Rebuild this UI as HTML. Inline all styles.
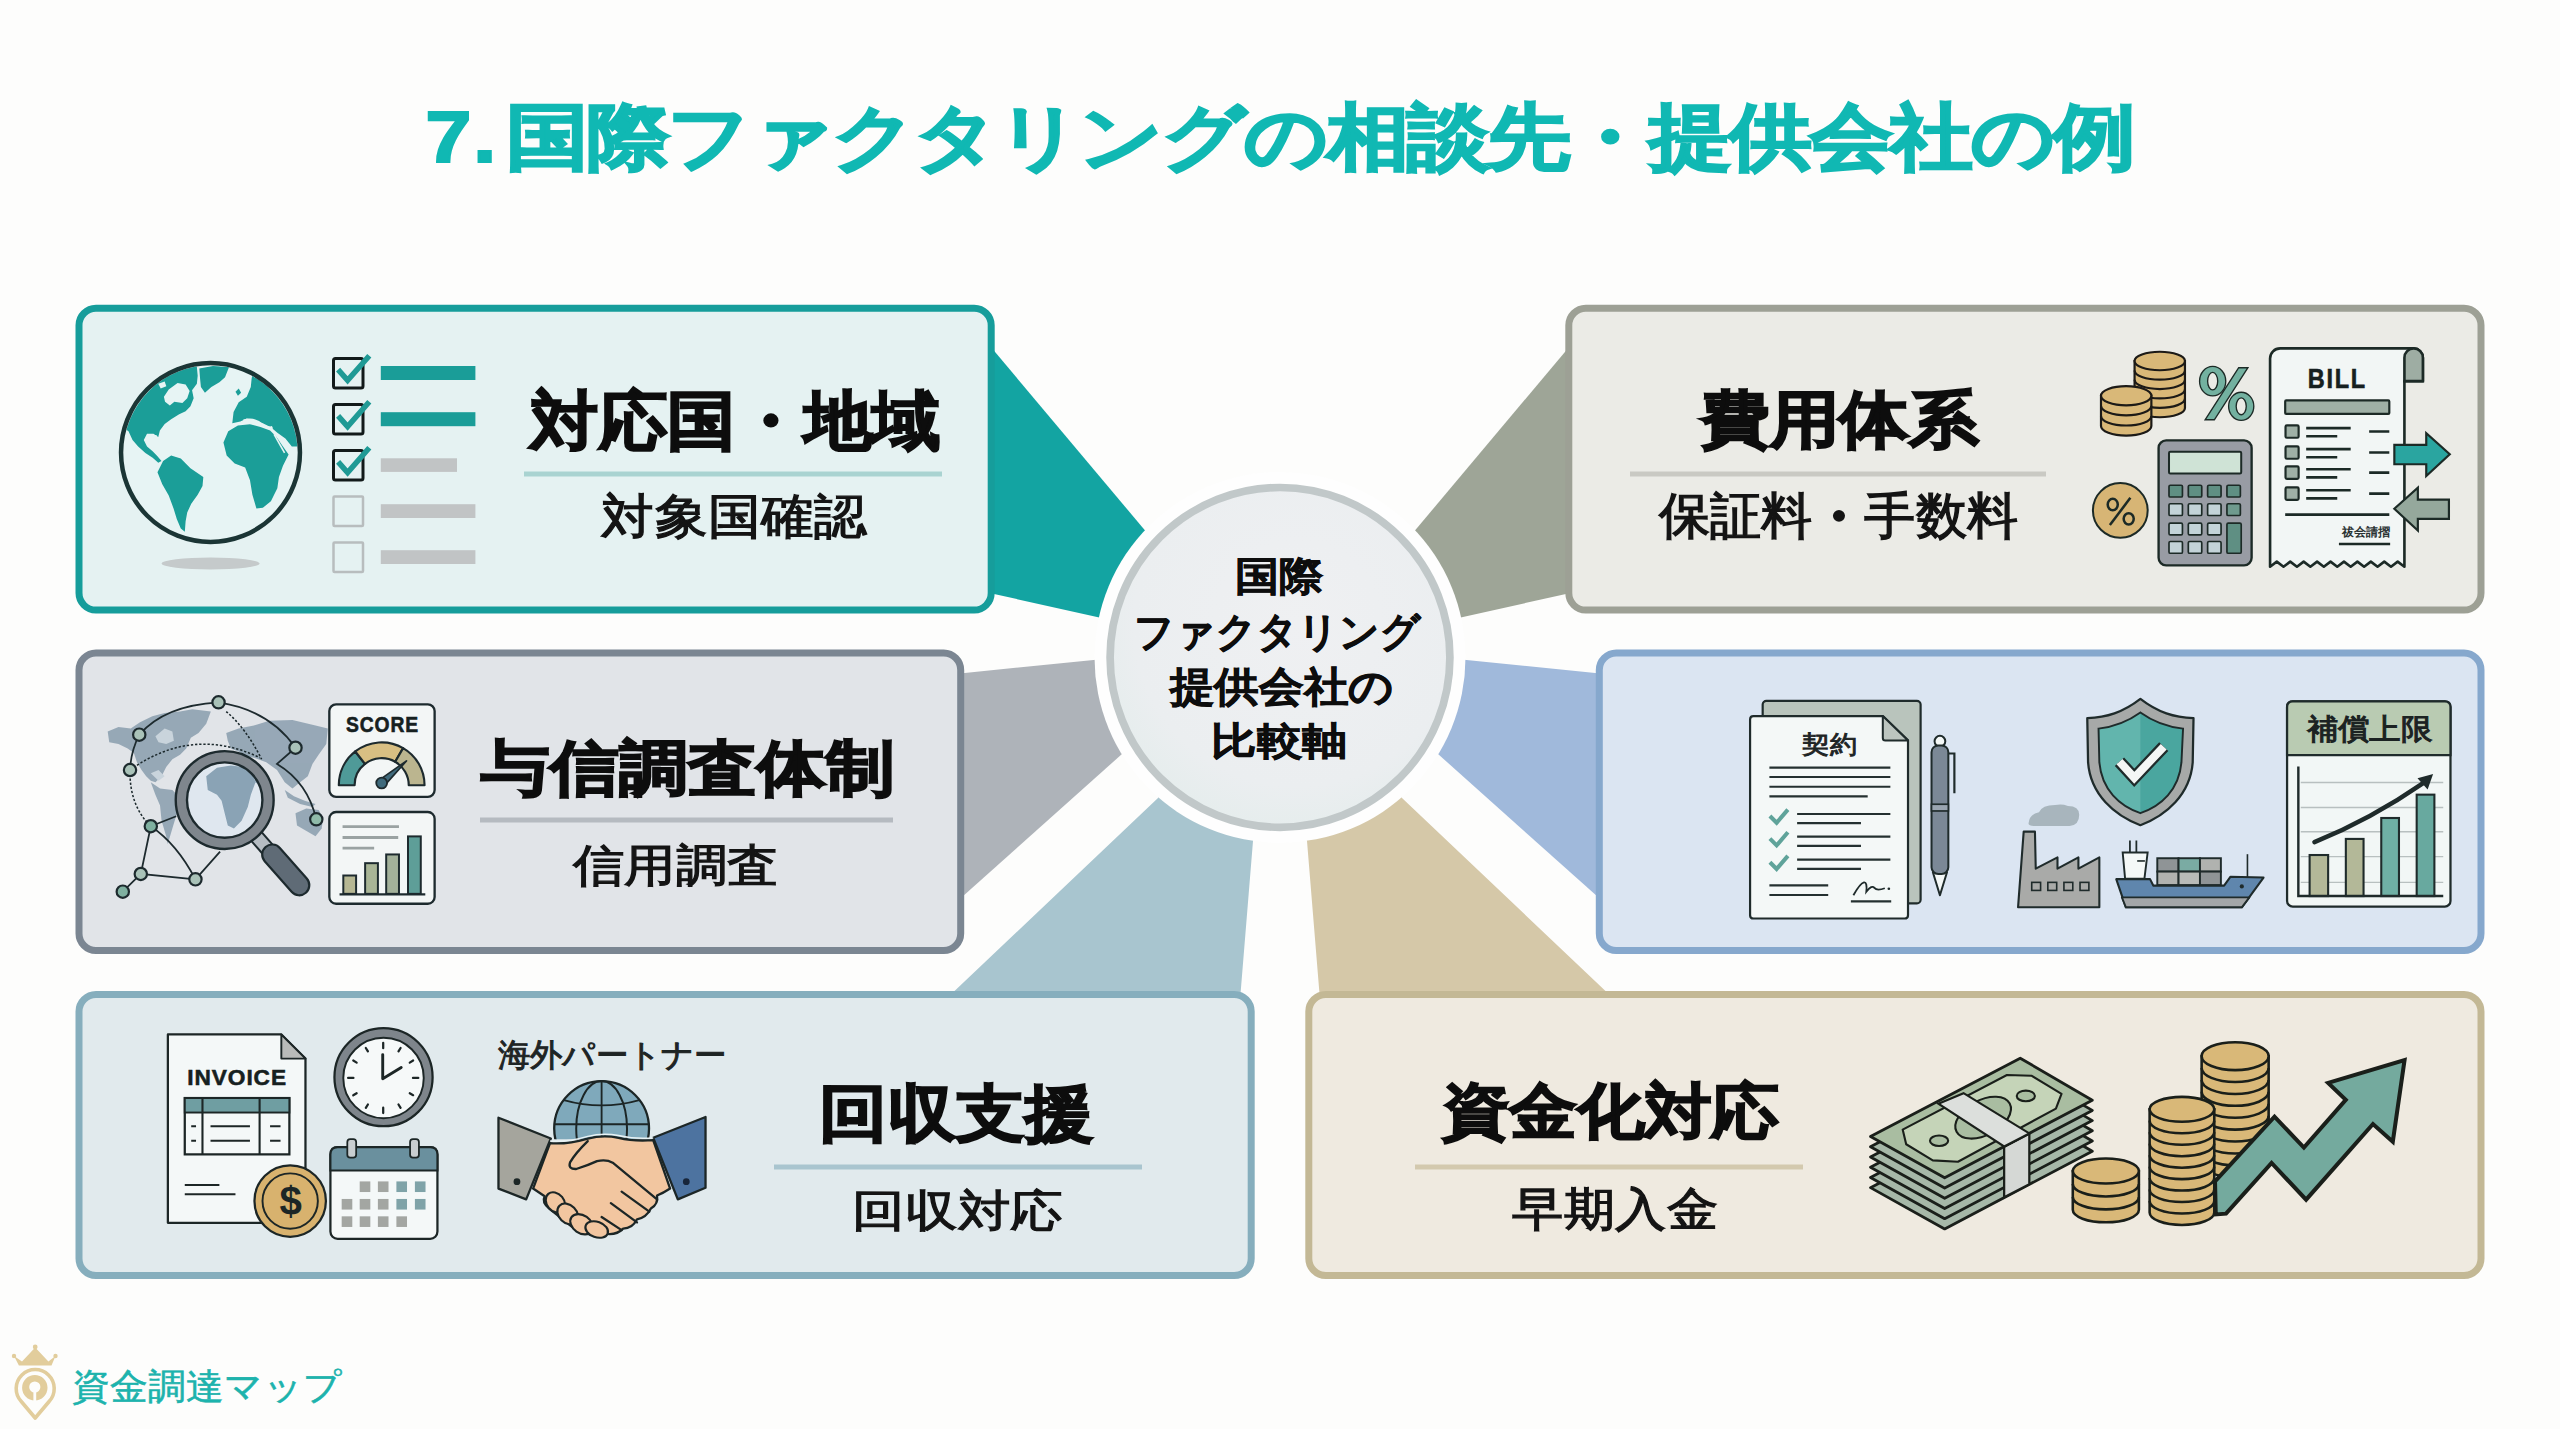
<!DOCTYPE html>
<html lang="ja"><head><meta charset="utf-8"><title>7.国際ファクタリングの相談先・提供会社の例</title>
<style>
html,body{margin:0;padding:0;width:2560px;height:1429px;overflow:hidden;background:#fdfdfc;font-family:"Liberation Sans",sans-serif;}
#bg{position:absolute;left:0;top:0;width:2560px;height:1429px}
.t{position:absolute;white-space:nowrap;text-align:center;color:#111;line-height:1;transform-origin:0 0}
.title{font-weight:700;color:#10b8b3;letter-spacing:-2px;-webkit-text-stroke:2.6px #10b8b3}
.h{font-weight:700;-webkit-text-stroke:2.3px #0d0d0d;color:#0d0d0d}
.s{font-weight:400;-webkit-text-stroke:1.5px #141414;color:#141414}
.c{font-weight:700;-webkit-text-stroke:0.8px #0d0d0d;color:#0d0d0d}
.lbl{font-weight:700;color:#162020;-webkit-text-stroke:0.6px #162020}
.lj{font-weight:400;color:#1e2424;-webkit-text-stroke:1px #1e2424}
.lb{font-weight:400;color:#1b2222;-webkit-text-stroke:1.2px #1b2222}
.lg{font-weight:700;color:#2a3232}
.logo{font-weight:400;color:#1db3ad;-webkit-text-stroke:0.6px #1db3ad}

</style></head>
<body style="">
<svg id="bg" width="2560" height="1429" viewBox="0 0 2560 1429">
<!-- connectors -->
<polygon points="985,340 1190,584 1151,629 985,592" fill="#13a4a2"/>
<polygon points="1575,340 1370,584 1409,629 1575,592" fill="#9ea597"/>
<polygon points="955,674 1096,659.7 1150,660 1150,700 1122,754 955,903.3" fill="#aeb3b9"/>
<polygon points="1605,674 1464,659.7 1410,660 1410,700 1438,754 1605,903.3" fill="#a0b9db"/>
<polygon points="1158,798 1200,740 1270,760 1253,841 1240,1000 945,1000" fill="#a8c5cf"/>
<polygon points="1402,798 1360,740 1290,760 1307,841 1320,1000 1615,1000" fill="#d5c8a8"/>
<!-- center circle -->
<defs><radialGradient id="cg" cx="0.55" cy="0.4" r="0.6"><stop offset="0" stop-color="#eff0f2"/><stop offset="0.8" stop-color="#ebeef0"/><stop offset="1" stop-color="#e6eded"/></radialGradient></defs>
<circle cx="1280" cy="657.4" r="185.5" fill="#fefefe"/>
<circle cx="1280" cy="657.4" r="169.9" fill="url(#cg)" stroke="#c1c8c9" stroke-width="7.7"/>
<!-- panels -->
<rect x="79" y="308.2" width="912.2" height="301.9" rx="17" fill="#e5f2f2" stroke="#169d9b" stroke-width="7"/>
<rect x="1568.8" y="308.2" width="912.2" height="301.9" rx="17" fill="#ebebe6" stroke="#9da095" stroke-width="7"/>
<rect x="79" y="653.1" width="881.7" height="297.4" rx="17" fill="#e1e4e8" stroke="#7b8692" stroke-width="7"/>
<rect x="1599.3" y="653.1" width="881.7" height="297.4" rx="17" fill="#dbe5f2" stroke="#86a8cd" stroke-width="7"/>
<rect x="79" y="994.5" width="1172.2" height="281" rx="17" fill="#e1eaed" stroke="#86aebd" stroke-width="7"/>
<rect x="1308.8" y="994.5" width="1172.2" height="281" rx="17" fill="#efeae0" stroke="#c3b895" stroke-width="7"/>
<!-- dividers -->
<rect x="524" y="471.5" width="418" height="5" fill="#a9d3d1"/>
<rect x="1630" y="471.5" width="416" height="5" fill="#c9c9c3"/>
<rect x="480" y="817.5" width="413" height="5" fill="#b5bac0"/>
<rect x="774" y="1164.5" width="368" height="5" fill="#a9c5cf"/>
<rect x="1415" y="1164.5" width="388" height="5" fill="#d3c9ae"/>
<!-- P1 globe -->
<defs><clipPath id="gclip"><circle cx="624.6" cy="637" r="541"/></clipPath></defs>
<ellipse cx="210.6" cy="563.5" rx="49" ry="6" fill="#c5cacb"/>
<g transform="translate(110,350) scale(0.1609)">
<circle cx="624.6" cy="637" r="545" fill="#e7f4f4"/>
<g clip-path="url(#gclip)" fill="#1b9e98">
<path d="M0,470 L0,0 L530,0 L545,160 L540,210 L510,250 L520,300 L500,350 L470,380 L430,400 L380,430 L340,460 L310,500 L300,540 L270,520 L230,520 L210,560 L230,600 L265,630 L295,660 L320,690 L300,700 L265,670 L220,640 L175,600 L140,560 L115,505 L60,470 Z"/>
<path d="M555,115 L640,100 L740,105 L715,170 L680,200 L630,230 L590,265 L565,230 L560,180 Z"/>
<path d="M295,760 L330,690 L380,655 L440,675 L500,735 L580,790 L575,845 L545,900 L505,955 L480,1010 L470,1065 L465,1130 L440,1110 L415,1050 L395,985 L365,905 L325,835 Z"/>
<path d="M705,575 L735,505 L795,470 L870,462 L935,478 L995,500 L1035,540 L1075,600 L1110,650 L1075,720 L1050,790 L1040,860 L1000,940 L950,980 L910,985 L885,900 L870,810 L840,730 L775,705 L725,655 Z"/>
<path d="M760,455 L768,385 L800,325 L850,290 L875,230 L880,180 L900,60 L1300,60 L1300,600 L1130,600 L1090,550 L1040,515 L1000,480 L950,455 L900,435 L850,425 L810,445 Z"/>
<path d="M780,260 L800,240 L815,265 L795,285 Z"/>
</g>
<g fill="#e7f4f4">
<path d="M335,290 L365,245 L420,205 L470,215 L495,255 L480,300 L450,330 L400,322 L372,345 L342,322 Z"/>
<path d="M300,210 L340,195 L350,225 L315,240 Z"/>
<path d="M215,560 L250,525 L290,530 L300,575 L270,600 L240,600 Z"/>
</g>
<path d="M1020,525 L1085,640" stroke="#e7f4f4" stroke-width="10" fill="none"/>
<path d="M830,440 Q900,420 950,470 Q990,490 1010,480" stroke="#e7f4f4" stroke-width="16" fill="none"/>
<circle cx="624.6" cy="637" r="556" fill="none" stroke="#1b3535" stroke-width="28"/>
</g>
<!-- checklist -->
<g fill="none">
<rect x="333.5" y="358.5" width="29.5" height="29.5" rx="2" stroke="#121a1a" stroke-width="3"/>
<rect x="333.5" y="404.5" width="29.5" height="29.5" rx="2" stroke="#121a1a" stroke-width="3"/>
<rect x="333.5" y="450.5" width="29.5" height="29.5" rx="2" stroke="#121a1a" stroke-width="3"/>
<rect x="333.5" y="496.5" width="29.5" height="29.5" rx="1" stroke="#b8bdbe" stroke-width="2.5"/>
<rect x="333.5" y="542.5" width="29.5" height="29.5" rx="1" stroke="#b8bdbe" stroke-width="2.5"/>
<path d="M338.1,369.7 L347.6,380.4 L369.3,355.7 M338.1,415.8 L347.6,426.5 L369.3,401.8 M338.1,461.8 L347.6,472.5 L369.3,447.8" stroke="#1f9a95" stroke-width="5.5" stroke-linejoin="miter"/>
</g>
<rect x="380.8" y="366" width="94.6" height="14" fill="#1a9d98"/>
<rect x="380.8" y="412.2" width="94.6" height="14" fill="#1a9d98"/>
<rect x="380.8" y="458.3" width="76.2" height="13.6" fill="#c1c4c5"/>
<rect x="380.8" y="504.2" width="94.6" height="13.8" fill="#c1c4c5"/>
<rect x="380.8" y="550.2" width="94.6" height="13.8" fill="#c1c4c5"/>
<!-- P2 coins/calc -->
<g transform="translate(2080,340) scale(0.16793)">
<path d="M325,125 L325,405 A150,55 0 0 0 625,405 L625,125 Z" fill="#d9b878" stroke="#1c1a17" stroke-width="13"/><path d="M325,181 A150,55 0 0 0 625,181" fill="none" stroke="#1c1a17" stroke-width="13"/><path d="M325,237 A150,55 0 0 0 625,237" fill="none" stroke="#1c1a17" stroke-width="13"/><path d="M325,293 A150,55 0 0 0 625,293" fill="none" stroke="#1c1a17" stroke-width="13"/><path d="M325,349 A150,55 0 0 0 625,349" fill="none" stroke="#1c1a17" stroke-width="13"/><ellipse cx="475" cy="125" rx="150" ry="55" fill="#d9b878" stroke="#1c1a17" stroke-width="13"/>
<path d="M125,332 L125,512 A150,57 0 0 0 425,512 L425,332 Z" fill="#d9b878" stroke="#1c1a17" stroke-width="13"/><path d="M125,392 A150,57 0 0 0 425,392" fill="none" stroke="#1c1a17" stroke-width="13"/><path d="M125,452 A150,57 0 0 0 425,452" fill="none" stroke="#1c1a17" stroke-width="13"/><ellipse cx="275" cy="332" rx="150" ry="57" fill="#d9b878" stroke="#1c1a17" stroke-width="13"/>
<path fill-rule="evenodd" d="M712,245 a78,88 0 1,0 156,0 a78,88 0 1,0 -156,0 Z M760,245 a30,52 0 1,0 60,0 a30,52 0 1,0 -60,0 Z" fill="#73b1a0" stroke="#1c2a26" stroke-width="8"/>
<path fill-rule="evenodd" d="M885,395 a75,84 0 1,0 150,0 a75,84 0 1,0 -150,0 Z M930,395 a30,50 0 1,0 60,0 a30,50 0 1,0 -60,0 Z" fill="#73b1a0" stroke="#1c2a26" stroke-width="8"/>
<polygon points="745,475 800,475 1000,165 945,165" fill="#73b1a0" stroke="#1c2a26" stroke-width="8"/>
<rect x="468" y="598" width="554" height="744" rx="45" fill="#989ca4" stroke="#1c2a26" stroke-width="14"/>
<rect x="530" y="665" width="430" height="130" rx="8" fill="#cfe3d6" stroke="#1c2a26" stroke-width="12"/>
<rect x="530" y="865" width="80" height="70" rx="8" fill="#5f8f83" stroke="#1c2a26" stroke-width="10"/>
<rect x="645" y="865" width="80" height="70" rx="8" fill="#5f8f83" stroke="#1c2a26" stroke-width="10"/>
<rect x="760" y="865" width="80" height="70" rx="8" fill="#5f8f83" stroke="#1c2a26" stroke-width="10"/>
<rect x="875" y="865" width="80" height="70" rx="8" fill="#5f8f83" stroke="#1c2a26" stroke-width="10"/>
<rect x="530" y="975" width="80" height="70" rx="8" fill="#c3d3d8" stroke="#1c2a26" stroke-width="10"/>
<rect x="645" y="975" width="80" height="70" rx="8" fill="#c3d3d8" stroke="#1c2a26" stroke-width="10"/>
<rect x="760" y="975" width="80" height="70" rx="8" fill="#c3d3d8" stroke="#1c2a26" stroke-width="10"/>
<rect x="875" y="975" width="80" height="70" rx="8" fill="#6f9a8e" stroke="#1c2a26" stroke-width="10"/>
<rect x="530" y="1090" width="80" height="70" rx="8" fill="#c3d3d8" stroke="#1c2a26" stroke-width="10"/>
<rect x="645" y="1090" width="80" height="70" rx="8" fill="#c3d3d8" stroke="#1c2a26" stroke-width="10"/>
<rect x="760" y="1090" width="80" height="70" rx="8" fill="#c3d3d8" stroke="#1c2a26" stroke-width="10"/>
<rect x="875" y="1090" width="85" height="180" rx="8" fill="#5f8f83" stroke="#1c2a26" stroke-width="10"/>
<rect x="530" y="1200" width="80" height="70" rx="8" fill="#c3d3d8" stroke="#1c2a26" stroke-width="10"/>
<rect x="645" y="1200" width="80" height="70" rx="8" fill="#c3d3d8" stroke="#1c2a26" stroke-width="10"/>
<rect x="760" y="1200" width="80" height="70" rx="8" fill="#c3d3d8" stroke="#1c2a26" stroke-width="10"/>
<circle cx="240" cy="1015" r="163" fill="#d7b575" stroke="#1c2a26" stroke-width="12"/>
<ellipse cx="195" cy="980" rx="30" ry="34" fill="none" stroke="#1c2a26" stroke-width="15"/>
<ellipse cx="290" cy="1065" rx="30" ry="34" fill="none" stroke="#1c2a26" stroke-width="15"/>
<path d="M178,1102 L300,940" stroke="#1c2a26" stroke-width="15"/>
</g>
<!-- P2 receipt -->
<g transform="translate(2260,340) scale(0.16793)">
<path d="M860,245 L860,1350 L820,1320 L780,1350 L740,1320 L700,1350 L660,1320 L620,1350 L580,1320 L540,1350 L500,1320 L460,1350 L420,1320 L380,1350 L340,1320 L300,1350 L260,1320 L220,1350 L180,1320 L140,1350 L100,1320 L60,1350 L60,1345 L60,110 A60,60 0 0 1 120,50 L915,50 A55,55 0 0 1 970,105 L970,245 Z" fill="#f2f6f5" stroke="#1c2a26" stroke-width="15.6" stroke-linejoin="round"/>
<path d="M860,245 L860,105 A55,55 0 0 1 970,105 L970,245 Z" fill="#9eada3" stroke="#1c2a26" stroke-width="15.6"/>
<rect x="150" y="360" width="620" height="80" rx="6" fill="#9fb0a6" stroke="#1c2a26" stroke-width="13.0"/>
<rect x="152" y="508" width="78" height="74" rx="8" fill="#9fb0a6" stroke="#1c2a26" stroke-width="13.0"/>
<path d="M275,525 L540,525 M275,573 L460,573 M650,545 L770,545" stroke="#1c2a26" stroke-width="15.6"/>
<rect x="152" y="633" width="78" height="74" rx="8" fill="#9fb0a6" stroke="#1c2a26" stroke-width="13.0"/>
<path d="M275,650 L540,650 M275,698 L460,698 M650,670 L770,670" stroke="#1c2a26" stroke-width="15.6"/>
<rect x="152" y="753" width="78" height="74" rx="8" fill="#9fb0a6" stroke="#1c2a26" stroke-width="13.0"/>
<path d="M275,770 L540,770 M275,818 L460,818 M650,790 L770,790" stroke="#1c2a26" stroke-width="15.6"/>
<rect x="152" y="878" width="78" height="74" rx="8" fill="#9fb0a6" stroke="#1c2a26" stroke-width="13.0"/>
<path d="M275,895 L540,895 M275,943 L460,943 M650,915 L770,915" stroke="#1c2a26" stroke-width="15.6"/>
<path d="M150,1040 L770,1040 M470,1215 L775,1215" stroke="#1c2a26" stroke-width="15.6"/>
<polygon points="800,625 990,625 990,555 1130,680 990,810 990,740 800,740" fill="#2aa5a0" stroke="#1c2a26" stroke-width="13.0"/>
<polygon points="1125,950 940,950 940,880 800,1005 940,1135 940,1065 1125,1065" fill="#95a89c" stroke="#1c2a26" stroke-width="13.0"/>
</g>
<!-- P3 map/network -->
<g transform="translate(100,690) scale(0.15394)">
<g fill="#8a9eae" opacity="0.85">
<path d="M50,270 L120,240 L200,250 L260,210 L340,170 L420,150 L520,140 L600,125 L720,140 L690,220 L640,280 L590,310 L560,380 L520,420 L470,450 L430,500 L400,560 L360,600 L330,590 L300,560 L270,520 L240,470 L220,410 L180,380 L120,350 L60,340 Z"/>
<path d="M330,600 L390,640 L470,650 L520,700 L500,800 L470,900 L440,1000 L430,950 L400,850 L390,750 L360,680 Z"/>
<path d="M820,280 L900,250 L1000,230 L1100,200 L1250,195 L1400,230 L1480,250 L1470,350 L1420,420 L1380,480 L1350,560 L1300,600 L1250,640 L1200,600 L1150,520 L1080,470 L1000,440 L950,430 L900,400 L850,380 L830,330 Z"/>
<path d="M1200,650 L1260,690 L1330,720 L1400,740 L1380,760 L1300,740 L1220,700 Z"/>
<path d="M1270,800 L1340,770 L1420,780 L1450,830 L1440,900 L1400,950 L1330,910 L1280,880 Z"/>
</g>
<g fill="#c9d4dc"><path d="M360,300 L420,250 L470,270 L480,330 L430,350 L380,340 Z"/><path d="M330,540 L380,520 L420,560 L380,590 Z"/></g>
<g fill="none" stroke="#1d2a2e" stroke-width="11.5">
<path d="M255,290 Q420,100 770,80"/>
<path d="M770,80 Q1100,130 1270,375"/>
<path d="M255,290 Q200,400 195,520"/>
<path d="M1270,375 L1150,480 Q1350,600 1405,840"/>
<path d="M330,885 L265,1195 L620,1230 M265,1195 L148,1310 M330,885 Q500,1000 620,1230 M330,885 L495,820 M620,1230 L780,1050"/>
</g>
<g fill="none" stroke="#1d2a2e" stroke-width="10" stroke-dasharray="15,12">
<path d="M195,520 Q190,750 330,885"/>
<path d="M195,520 Q600,230 1040,440"/>
<path d="M820,140 Q950,250 1050,450"/>
</g>
<path d="M1007,941 L1119,1069" stroke="#1d2a2e" stroke-width="101.2"/>
<path d="M1007,941 L1119,1069" stroke="#b5bcc2" stroke-width="74.8"/>
<path d="M1119,1069 L1294,1268" stroke="#1d2a2e" stroke-width="145.2" stroke-linecap="round"/>
<path d="M1119,1069 L1294,1268" stroke="#5f6b76" stroke-width="116.6" stroke-linecap="round"/>
<circle cx="810" cy="715" r="318" fill="#7f868d" stroke="#1d2a2e" stroke-width="15.4"/>
<defs><clipPath id="lens"><circle cx="810" cy="715" r="245"/></clipPath></defs>
<circle cx="810" cy="715" r="245" fill="#dfe7ef"/>
<g clip-path="url(#lens)" fill="#8aa3b5"><path d="M690,560 L760,505 L850,490 L930,500 L990,540 L1010,600 L980,680 L960,760 L920,850 L870,900 L830,880 L810,800 L790,720 L760,680 L700,650 Z"/><path d="M700,480 L760,460 L850,470 L900,455 L1000,470 L1060,430 L1060,380 L700,380 Z"/><path d="M990,540 L1060,520 L1060,640 L1010,600 Z"/></g>
<circle cx="810" cy="715" r="245" fill="none" stroke="#1d2a2e" stroke-width="15.4"/>
<circle cx="770" cy="80" r="40" fill="#a9c2b8" stroke="#1d2a2e" stroke-width="14.3"/>
<circle cx="255" cy="290" r="40" fill="#a9c2b8" stroke="#1d2a2e" stroke-width="14.3"/>
<circle cx="195" cy="520" r="40" fill="#a9c2b8" stroke="#1d2a2e" stroke-width="14.3"/>
<circle cx="1270" cy="375" r="40" fill="#a9c2b8" stroke="#1d2a2e" stroke-width="14.3"/>
<circle cx="1405" cy="840" r="40" fill="#8fbaa9" stroke="#1d2a2e" stroke-width="14.3"/>
<circle cx="330" cy="885" r="40" fill="#7fb0a0" stroke="#1d2a2e" stroke-width="14.3"/>
<circle cx="265" cy="1195" r="40" fill="#a9c2b8" stroke="#1d2a2e" stroke-width="14.3"/>
<circle cx="620" cy="1230" r="40" fill="#a9c2b8" stroke="#1d2a2e" stroke-width="14.3"/>
<circle cx="148" cy="1310" r="40" fill="#7fb0a0" stroke="#1d2a2e" stroke-width="14.3"/>
</g>
<!-- P3 score/chart -->
<g transform="translate(320,695) scale(0.15042)">
<rect x="62" y="62" width="700" height="615" rx="45" fill="#f3f6f6" stroke="#1d2a2e" stroke-width="15.4"/>
<path d="M125.0,600.0 A285,285 0 0 1 234.5,375.4 L299.2,458.2 A180,180 0 0 0 230.0,600.0 Z" fill="#4f9a98" stroke="#1d2a2e" stroke-width="14.3" stroke-linejoin="round"/>
<path d="M234.5,375.4 A285,285 0 0 1 552.5,353.2 L500.0,444.1 A180,180 0 0 0 299.2,458.2 Z" fill="#d8bf83" stroke="#1d2a2e" stroke-width="14.3" stroke-linejoin="round"/>
<path d="M552.5,353.2 A285,285 0 0 1 695.0,600.0 L590.0,600.0 A180,180 0 0 0 500.0,444.1 Z" fill="#bbb58f" stroke="#1d2a2e" stroke-width="14.3" stroke-linejoin="round"/>
<path d="M427,604 L575,438 L393,566 Z" fill="#3f6a7c" stroke="#1d2a2e" stroke-width="11.0" stroke-linejoin="round"/>
<circle cx="410" cy="585" r="36" fill="#3f6a7c" stroke="#1d2a2e" stroke-width="12.1"/>
<rect x="62" y="778" width="700" height="610" rx="45" fill="#f3f6f6" stroke="#1d2a2e" stroke-width="15.4"/>
<path d="M150,875 L525,875 M150,948 L520,948 M150,1018 L360,1018" stroke="#9aa2a2" stroke-width="19.8"/>
<rect x="155" y="1200" width="85" height="122" fill="#b6b793" stroke="#1d2a2e" stroke-width="13.2"/>
<rect x="300" y="1118" width="85" height="204" fill="#a9b596" stroke="#1d2a2e" stroke-width="13.2"/>
<rect x="440" y="1060" width="85" height="262" fill="#a3b19a" stroke="#1d2a2e" stroke-width="13.2"/>
<rect x="585" y="940" width="85" height="382" fill="#5e9e98" stroke="#1d2a2e" stroke-width="13.2"/>
<path d="M130,1325 L700,1325" stroke="#1d2a2e" stroke-width="15.4"/>
</g>
<!-- P4 contract -->
<g transform="translate(1740,690) scale(0.16801)">
<rect x="135" y="65" width="940" height="1205" rx="22" fill="#b9c4bc" stroke="#1f2b2b" stroke-width="13"/>
<path d="M80,155 L850,155 L1000,300 L1000,1340 Q1000,1360 980,1360 L80,1360 Q60,1360 60,1340 L60,175 Q60,155 80,155 Z" fill="#f4f8f7" stroke="#1f2b2b" stroke-width="13" stroke-linejoin="round"/>
<path d="M850,155 L850,285 Q850,300 865,300 L1000,300 Z" fill="#bcc5bf" stroke="#1f2b2b" stroke-width="12" stroke-linejoin="round"/>
<path d="M175,462 L895,462 M175,518 L895,518 M175,576 L895,576 M175,633 L760,633 M340,738 L895,738 M340,792 L720,792 M340,873 L895,873 M340,928 L720,928 M340,1010 L895,1010 M340,1065 L720,1065 M175,1163 L525,1163 M175,1220 L525,1220 M660,1258 L900,1258" stroke="#243030" stroke-width="13"/>
<path d="M178,750 L218,790 L285,712 M178,885 L218,925 L285,847 M178,1025 L218,1065 L285,987" stroke="#5fa39a" stroke-width="24" fill="none"/>
<path d="M675,1222 Q715,1150 738,1145 Q758,1142 752,1200 Q785,1158 800,1178 Q815,1198 862,1180" stroke="#1f2b2b" stroke-width="11" fill="none"/><circle cx="886" cy="1183" r="8" fill="#1f2b2b"/>
<circle cx="1190" cy="305" r="32" fill="#f4f8f7" stroke="#1f2b2b" stroke-width="12"/>
<path d="M1238,378 L1276,378 L1276,614" stroke="#1f2b2b" stroke-width="13" fill="none"/>
<polygon points="1148,1085 1232,1085 1190,1222" fill="#f4f8f7" stroke="#1f2b2b" stroke-width="12" stroke-linejoin="round"/>
<rect x="1140" y="330" width="100" height="765" rx="40" fill="#7b8896" stroke="#1f2b2b" stroke-width="12"/>
<rect x="1140" y="680" width="100" height="40" fill="#9aa5b0" stroke="#1f2b2b" stroke-width="10"/>
</g>
<!-- P4 shield factory ship -->
<g transform="translate(2010,690) scale(0.16098)">
<path d="M810,55 C700,140 600,170 480,175 L485,450 C500,650 650,780 810,840 C970,780 1120,650 1135,450 L1140,175 C1020,170 920,140 810,55 Z" fill="#a7a9a8" stroke="#1f2b2b" stroke-width="14" stroke-linejoin="round"/>
<path d="M810,140 C720,205 640,230 550,240 L555,450 C570,620 680,720 810,765 C940,720 1050,620 1065,450 L1075,240 C980,230 900,205 810,140 Z" fill="#62b5ad"/>
<path d="M810,140 C900,205 980,230 1075,240 L1065,450 C1050,620 940,720 810,765 Z" fill="#4aa69f"/>
<path d="M810,140 C720,205 640,230 550,240 L555,450 C570,620 680,720 810,765 C940,720 1050,620 1065,450 L1075,240 C980,230 900,205 810,140 Z" fill="none" stroke="#1f2b2b" stroke-width="12"/>
<path d="M680,445 L772,545 L955,352" stroke="#1f2b2b" stroke-width="78" fill="none" stroke-linejoin="miter"/>
<path d="M680,445 L772,545 L955,352" stroke="#f4f6f5" stroke-width="50" fill="none" stroke-linejoin="miter"/>
<path d="M115,830 Q120,770 180,760 Q200,715 280,715 Q320,705 360,720 Q430,720 430,775 Q430,840 370,845 L150,845 Q115,845 115,830 Z" fill="#a8b5bd"/>
<polygon points="50,1350 85,880 155,880 160,1110 295,1040 295,1110 425,1040 425,1110 555,1040 555,1350" fill="#a9aaa8" stroke="#1f2b2b" stroke-width="13" stroke-linejoin="round"/>
<rect x="135" y="1195" width="55" height="50" fill="none" stroke="#1f2b2b" stroke-width="10"/>
<rect x="235" y="1195" width="55" height="50" fill="none" stroke="#1f2b2b" stroke-width="10"/>
<rect x="335" y="1195" width="55" height="50" fill="none" stroke="#1f2b2b" stroke-width="10"/>
<rect x="435" y="1195" width="55" height="50" fill="none" stroke="#1f2b2b" stroke-width="10"/>
<path d="M745,935 L745,1012 M785,935 L785,1012" stroke="#1f2b2b" stroke-width="11"/>
<path d="M700,1010 L855,1010 L835,1172 L715,1172 Z" fill="#f4f8f7" stroke="#1f2b2b" stroke-width="12"/>
<path d="M790,1062 L838,1062" stroke="#1f2b2b" stroke-width="10"/>
<rect x="915" y="1045" width="132" height="83" fill="#8f9496" stroke="#1f2b2b" stroke-width="12"/>
<rect x="1047" y="1045" width="133" height="83" fill="#7aaba3" stroke="#1f2b2b" stroke-width="12"/>
<rect x="1180" y="1045" width="130" height="83" fill="#b0b2af" stroke="#1f2b2b" stroke-width="12"/>
<rect x="915" y="1128" width="132" height="84" fill="#b0b2af" stroke="#1f2b2b" stroke-width="12"/>
<rect x="1047" y="1128" width="133" height="84" fill="#b8bbb8" stroke="#1f2b2b" stroke-width="12"/>
<rect x="1180" y="1128" width="130" height="84" fill="#8f9496" stroke="#1f2b2b" stroke-width="12"/>
<path d="M1475,1020 L1475,1165" stroke="#1f2b2b" stroke-width="10"/>
<path d="M660,1175 L870,1175 L890,1215 L1330,1215 L1370,1160 L1575,1165 L1440,1350 L720,1350 Z" fill="#5f86ad" stroke="#1f2b2b" stroke-width="13" stroke-linejoin="round"/>
<path d="M695,1288 L1487,1288 L1440,1350 L720,1350 Z" fill="#a3a6a8" stroke="#1f2b2b" stroke-width="12" stroke-linejoin="round"/>
<circle cx="1440" cy="1220" r="13" fill="#1f2b2b"/>
</g>
<!-- P4 chart -->
<g transform="translate(2275,690) scale(0.16100)">
<rect x="75" y="70" width="1015" height="1275" rx="35" fill="#f2f7f6" stroke="#1f2b2b" stroke-width="14"/>
<path d="M75,405 L75,105 Q75,70 110,70 L1055,70 Q1090,70 1090,105 L1090,405 Z" fill="#b9cbb2" stroke="#1f2b2b" stroke-width="14"/>
<path d="M160,575 L1045,575 M160,730 L1045,730 M160,880 L1045,880 M160,1035 L1045,1035 M160,1195 L1045,1195" stroke="#b8c0c0" stroke-width="9"/>
<rect x="215" y="1025" width="115" height="255" fill="#b3b898" stroke="#1f2b2b" stroke-width="13"/>
<rect x="440" y="925" width="110" height="355" fill="#b3b898" stroke="#1f2b2b" stroke-width="13"/>
<rect x="660" y="795" width="110" height="485" fill="#6fb0a5" stroke="#1f2b2b" stroke-width="13"/>
<rect x="880" y="650" width="110" height="630" fill="#68a99f" stroke="#1f2b2b" stroke-width="13"/>
<path d="M145,475 L145,1280 L1045,1280" stroke="#1f2b2b" stroke-width="15" fill="none"/>
<path d="M245,945 Q600,800 925,575" stroke="#1f2b2b" stroke-width="28" fill="none" stroke-linecap="round"/>
<polygon points="982,522 885,548 948,618" fill="#1f2b2b"/>
</g>
<!-- P5 invoice/clock/calendar -->
<g transform="translate(155,1020) scale(0.16093)">
<path d="M80,90 L785,90 L935,240 L935,1260 L80,1260 Z" fill="#f4f8f8" stroke="#1c2626" stroke-width="14" stroke-linejoin="round"/>
<path d="M785,90 L785,240 L935,240 Z" fill="#b9bbb9" stroke="#1c2626" stroke-width="12" stroke-linejoin="round"/>
<rect x="185" y="485" width="650" height="350" fill="#f4f8f8" stroke="#1c2626" stroke-width="14"/>
<rect x="185" y="485" width="650" height="90" fill="#6f9ea2" stroke="#1c2626" stroke-width="12"/>
<path d="M295,485 L295,835 M650,485 L650,835 M225,660 L255,660 M225,750 L255,750 M345,660 L590,660 M345,750 L590,750 M715,660 L780,660 M715,750 L780,750 M185,1025 L400,1025 M185,1083 L500,1083" stroke="#1c2626" stroke-width="13"/>
<circle cx="840" cy="1125" r="222" fill="#d8b26e" stroke="#1c2626" stroke-width="14"/>
<circle cx="840" cy="1125" r="172" fill="none" stroke="#1c2626" stroke-width="12"/>
<text x="843" y="1212" font-size="250" font-weight="700" text-anchor="middle" font-family="Liberation Sans" fill="#1c2626">$</text>
<circle cx="1420" cy="355" r="305" fill="#7e858b" stroke="#1c2626" stroke-width="14"/>
<circle cx="1420" cy="360" r="250" fill="#f6f9f9" stroke="#1c2626" stroke-width="12"/>
<path d="M1418,175 L1418,142 M1513,195 L1526,174 M1583,265 L1604,252 M1603,360 L1636,360 M1583,455 L1604,467 M1513,525 L1526,546 M1418,545 L1418,578 M1323,525 L1310,546 M1253,455 L1232,468 M1233,360 L1200,360 M1253,265 L1232,252 M1323,195 L1310,174" stroke="#1c2626" stroke-width="14" stroke-linecap="round"/>
<path d="M1415,215 L1415,365 L1530,295" stroke="#1c2626" stroke-width="18" stroke-linecap="round" stroke-linejoin="round" fill="none"/>
<rect x="1090" y="790" width="665" height="570" rx="45" fill="#f4f8f8" stroke="#1c2626" stroke-width="14"/>
<path d="M1090,935 L1090,835 Q1090,790 1135,790 L1710,790 Q1755,790 1755,835 L1755,935 Z" fill="#6a909e" stroke="#1c2626" stroke-width="13"/>
<rect x="1195" y="740" width="55" height="115" rx="18" fill="#c9ced0" stroke="#1c2626" stroke-width="11"/>
<rect x="1585" y="740" width="55" height="115" rx="18" fill="#c9ced0" stroke="#1c2626" stroke-width="11"/>
<rect x="1272" y="1003" width="66" height="66" fill="#a3a6a2"/>
<rect x="1385" y="1003" width="66" height="66" fill="#a3a6a2"/>
<rect x="1500" y="1003" width="66" height="66" fill="#7fa3a8"/>
<rect x="1615" y="1003" width="66" height="66" fill="#7fa3a8"/>
<rect x="1160" y="1112" width="66" height="66" fill="#a3a6a2"/>
<rect x="1272" y="1112" width="66" height="66" fill="#a3a6a2"/>
<rect x="1385" y="1112" width="66" height="66" fill="#a3a6a2"/>
<rect x="1500" y="1112" width="66" height="66" fill="#7fa3a8"/>
<rect x="1615" y="1112" width="66" height="66" fill="#7fa3a8"/>
<rect x="1160" y="1220" width="66" height="66" fill="#a3a6a2"/>
<rect x="1272" y="1220" width="66" height="66" fill="#a3a6a2"/>
<rect x="1385" y="1220" width="66" height="66" fill="#a3a6a2"/>
<rect x="1500" y="1220" width="66" height="66" fill="#a3a6a2"/>
</g>
<!-- P5 handshake -->
<g transform="translate(480,1030) scale(0.15394)">
<defs><clipPath id="hg"><rect x="400" y="250" width="800" height="460"/></clipPath></defs>
<g clip-path="url(#hg)">
<circle cx="790" cy="640" r="308" fill="#7fa9bb" stroke="#1c2626" stroke-width="15"/>
<ellipse cx="790" cy="640" rx="165" ry="308" fill="none" stroke="#1c2626" stroke-width="13"/>
<path d="M790,332 L790,700 M482,612 L1098,612 M545,455 Q790,525 1035,455" stroke="#1c2626" stroke-width="12" fill="none"/>
</g>
<polygon points="120,570 460,705 300,1100 120,1030" fill="#a5a59d" stroke="#1c2626" stroke-width="15" stroke-linejoin="round"/>
<circle cx="240" cy="985" r="22" fill="#1c2626"/>
<polygon points="1465,565 1465,1025 1285,1100 1125,700" fill="#4d73a0" stroke="#1c2626" stroke-width="15" stroke-linejoin="round"/>
<circle cx="1340" cy="985" r="22" fill="#18263a"/>
<path d="M455,735 Q560,745 700,705 Q800,680 900,700 Q1000,725 1125,715 L1235,1030 Q1190,1060 1150,1075 Q1160,1130 1110,1160 Q1080,1220 1020,1230 Q990,1290 930,1290 Q880,1340 800,1320 Q740,1345 690,1320 Q640,1320 600,1280 L450,1160 Q400,1120 420,1080 L345,1030 Z" fill="#f2c6a0" stroke="#1c2626" stroke-width="15" stroke-linejoin="round"/>
<ellipse cx="490" cy="1120" rx="72" ry="56" transform="rotate(50 490 1120)" fill="#f2c6a0" stroke="#1c2626" stroke-width="14"/>
<ellipse cx="570" cy="1195" rx="76" ry="58" transform="rotate(45 570 1195)" fill="#f2c6a0" stroke="#1c2626" stroke-width="14"/>
<ellipse cx="660" cy="1262" rx="80" ry="58" transform="rotate(35 660 1262)" fill="#f2c6a0" stroke="#1c2626" stroke-width="14"/>
<ellipse cx="758" cy="1296" rx="76" ry="50" transform="rotate(20 758 1296)" fill="#f2c6a0" stroke="#1c2626" stroke-width="14"/>
<path d="M700,722 Q620,800 585,860 Q570,905 625,903 Q700,880 760,852 Q820,838 862,862 L1150,1100" stroke="#1c2626" stroke-width="15" fill="none" stroke-linecap="round" stroke-linejoin="round"/>
<path d="M920,1050 L1100,1180 M850,1125 L1020,1250 M790,1215 L920,1300" stroke="#1c2626" stroke-width="15" stroke-linecap="round"/>
<path d="M455,735 Q560,745 700,705 Q800,680 900,700 Q1000,725 1125,715" stroke="#e8f2f4" stroke-width="10" fill="none" transform="translate(0,-14)"/>
</g>
<!-- P6 money -->
<g transform="translate(1860,1040) scale(0.13994)">
<polygon points="75,1055 1145,495 1660,795 605,1350" fill="#a6b8a8" stroke="#1a1f1a" stroke-width="20.0" stroke-linejoin="round"/>
<polygon points="75,982 1145,422 1660,722 605,1277" fill="#a6b8a8" stroke="#1a1f1a" stroke-width="20.0" stroke-linejoin="round"/>
<polygon points="75,909 1145,349 1660,649 605,1204" fill="#a6b8a8" stroke="#1a1f1a" stroke-width="20.0" stroke-linejoin="round"/>
<polygon points="75,836 1145,276 1660,576 605,1131" fill="#a6b8a8" stroke="#1a1f1a" stroke-width="20.0" stroke-linejoin="round"/>
<polygon points="75,763 1145,203 1660,503 605,1058" fill="#a6b8a8" stroke="#1a1f1a" stroke-width="20.0" stroke-linejoin="round"/>
<polygon points="1030,761 1210,667 1210,1030 1030,1124" fill="#d5d8d5" stroke="#1a1f1a" stroke-width="16.2"/>
<polygon points="75,690 1145,130 1660,430 605,985" fill="#a9bda1" stroke="#1a1f1a" stroke-width="20.0" stroke-linejoin="round"/>
<polygon points="305,640 1050,250 1225,255 1440,385 1400,490 700,870 520,860 330,745" fill="#c5d4b8" stroke="#1a1f1a" stroke-width="15.0" stroke-linejoin="round"/>
<ellipse cx="565" cy="720" rx="65" ry="38" fill="#a9bda1" stroke="#1a1f1a" stroke-width="15.0"/>
<ellipse cx="1185" cy="400" rx="65" ry="38" fill="#a9bda1" stroke="#1a1f1a" stroke-width="15.0"/>
<ellipse cx="880" cy="555" rx="215" ry="125" transform="rotate(-28 880 555)" fill="#a9bda1" stroke="#1a1f1a" stroke-width="15.0"/>
<polygon points="560,455 740,380 1210,667 1030,761" fill="#dcdfdc" stroke="#1a1f1a" stroke-width="15.0"/>
</g>
<!-- P6 coins/arrow -->
<g transform="translate(2060,1030) scale(0.14693)">
<path d="M964,178 L964,907 A228,95 0 0 0 1420,907 L1420,178 Z" fill="#d9b878" stroke="#1a1f1a" stroke-width="17.5"/><path d="M964,259 A228,95 0 0 0 1420,259" fill="none" stroke="#1a1f1a" stroke-width="17.5"/><path d="M964,340 A228,95 0 0 0 1420,340" fill="none" stroke="#1a1f1a" stroke-width="17.5"/><path d="M964,421 A228,95 0 0 0 1420,421" fill="none" stroke="#1a1f1a" stroke-width="17.5"/><path d="M964,502 A228,95 0 0 0 1420,502" fill="none" stroke="#1a1f1a" stroke-width="17.5"/><path d="M964,583 A228,95 0 0 0 1420,583" fill="none" stroke="#1a1f1a" stroke-width="17.5"/><path d="M964,664 A228,95 0 0 0 1420,664" fill="none" stroke="#1a1f1a" stroke-width="17.5"/><path d="M964,745 A228,95 0 0 0 1420,745" fill="none" stroke="#1a1f1a" stroke-width="17.5"/><path d="M964,826 A228,95 0 0 0 1420,826" fill="none" stroke="#1a1f1a" stroke-width="17.5"/><ellipse cx="1192" cy="178" rx="228" ry="95" fill="#d9b878" stroke="#1a1f1a" stroke-width="17.5"/>
<polygon points="1055,1030 1460,590 1660,800 1945,475 1825,360 2345,205 2265,760 2130,640 1675,1155 1440,905 1130,1250 1060,1255" fill="#74aa9e" stroke="#1a1f1a" stroke-width="27.5" stroke-linejoin="miter"/>
<path d="M610,540 L610,1242 A220,85 0 0 0 1050,1242 L1050,540 Z" fill="#d9b878" stroke="#1a1f1a" stroke-width="17.5"/><path d="M610,618 A220,85 0 0 0 1050,618" fill="none" stroke="#1a1f1a" stroke-width="17.5"/><path d="M610,696 A220,85 0 0 0 1050,696" fill="none" stroke="#1a1f1a" stroke-width="17.5"/><path d="M610,774 A220,85 0 0 0 1050,774" fill="none" stroke="#1a1f1a" stroke-width="17.5"/><path d="M610,852 A220,85 0 0 0 1050,852" fill="none" stroke="#1a1f1a" stroke-width="17.5"/><path d="M610,930 A220,85 0 0 0 1050,930" fill="none" stroke="#1a1f1a" stroke-width="17.5"/><path d="M610,1008 A220,85 0 0 0 1050,1008" fill="none" stroke="#1a1f1a" stroke-width="17.5"/><path d="M610,1086 A220,85 0 0 0 1050,1086" fill="none" stroke="#1a1f1a" stroke-width="17.5"/><path d="M610,1164 A220,85 0 0 0 1050,1164" fill="none" stroke="#1a1f1a" stroke-width="17.5"/><ellipse cx="830" cy="540" rx="220" ry="85" fill="#d9b878" stroke="#1a1f1a" stroke-width="17.5"/>
<path d="M87,960 L87,1224 A225,85 0 0 0 537,1224 L537,960 Z" fill="#d9b878" stroke="#1a1f1a" stroke-width="17.5"/><path d="M87,1048 A225,85 0 0 0 537,1048" fill="none" stroke="#1a1f1a" stroke-width="17.5"/><path d="M87,1136 A225,85 0 0 0 537,1136" fill="none" stroke="#1a1f1a" stroke-width="17.5"/><ellipse cx="312" cy="960" rx="225" ry="85" fill="#d9b878" stroke="#1a1f1a" stroke-width="17.5"/>
</g>
<!-- logo -->
<g fill="#e2cd9c">
<path d="M14,1356 L22,1361.5 L35.2,1347.5 L48.4,1361.5 L55.5,1356 L51.5,1365.5 L18.9,1365.5 Z"/>
<circle cx="14" cy="1356" r="2.2"/><circle cx="55.5" cy="1356" r="2.2"/><circle cx="35.2" cy="1347" r="2.4"/>
<circle cx="34.8" cy="1387.8" r="12.7"/>
</g>
<path d="M35.2,1418 L21.3,1401.5 A19,19 0 1 1 49.1,1401.5 Z" fill="none" stroke="#e2cd9c" stroke-width="3.6" stroke-linejoin="round"/>
<circle cx="34.8" cy="1387" r="5.6" fill="#fdfdfc"/>
<rect x="33.4" y="1388" width="2.8" height="13" fill="#fdfdfc"/>

</svg>

<div id="title" class="t title" style="left:0px;top:96px;width:2560px;font-size:84px;transform:translate(23.09px,5.57px) scale(0.9816,0.8556);">7<span style="margin-left:4px">.</span><span style="margin-left:12px">国際ファクタリングの相談先・提供会社の例</span></div>
<div id="H1" class="t h" style="left:483px;top:381px;width:500px;font-size:72px;transform:translate(15.21px,7.47px) scale(0.9495,0.8908);">対応国・地域</div>
<div id="S1" class="t s" style="left:484px;top:488px;width:500px;font-size:54px;transform:translate(4.51px,4.19px) scale(0.9824,0.8945);">対象国確認</div>
<div id="H2" class="t h" style="left:1589px;top:381px;width:500px;font-size:72px;transform:translate(9.14px,7.92px) scale(0.9653,0.8584);">費用体系</div>
<div id="S2" class="t s" style="left:1588px;top:488px;width:500px;font-size:54px;transform:translate(12.47px,2.40px) scale(0.9521,0.9309);">保証料<span style="display:inline-block;transform:scale(1.25)">・</span>手数料</div>
<div id="H3" class="t h" style="left:435px;top:729px;width:500px;font-size:72px;transform:translate(12.92px,8.72px) scale(0.9587,0.8403);">与信調査体制</div>
<div id="S3" class="t s" style="left:424px;top:836px;width:500px;font-size:54px;transform:translate(13.69px,6.04px) scale(0.9526,0.8364);">信用調査</div>
<div id="H5" class="t h" style="left:709px;top:1076px;width:500px;font-size:72px;transform:translate(9.80px,6.46px) scale(0.9500,0.8622);">回収支援</div>
<div id="S5" class="t s" style="left:709px;top:1183px;width:500px;font-size:54px;transform:translate(5.04px,5.81px) scale(0.9744,0.8145);">回収対応</div>
<div id="H6" class="t h" style="left:1360px;top:1076px;width:500px;font-size:72px;transform:translate(16.83px,5.68px) scale(0.9333,0.8275);">資金化対応</div>
<div id="S6" class="t s" style="left:1365px;top:1183px;width:500px;font-size:54px;transform:translate(11.31px,2.60px) scale(0.9563,0.8582);">早期入金</div>
<div id="C1" class="t c" style="left:1080px;top:548px;width:400px;font-size:46px;transform:translate(8.17px,8.60px) scale(0.9527,0.8638);">国際</div>
<div id="C2" class="t c" style="left:1080px;top:603px;width:400px;font-size:46px;transform:translate(23.45px,7.80px) scale(0.8704,0.9000);">ファクタリング</div>
<div id="C3" class="t c" style="left:1080px;top:658px;width:400px;font-size:46px;transform:translate(7.60px,7.70px) scale(0.9711,0.8936);">提供会社の</div>
<div id="C4" class="t c" style="left:1080px;top:713px;width:400px;font-size:46px;transform:translate(1.09px,8.70px) scale(0.9918,0.8340);">比較軸</div>
<div id="BILL" class="t lbl" style="left:2236px;top:364px;width:200px;font-size:28px;transform:translate(17.24px,0.70px) scale(0.8403,1.0000);letter-spacing:2px;">BILL</div>
<div id="SCORE" class="t lbl" style="left:282px;top:712px;width:200px;font-size:22px;transform:translate(12.66px,2.16px) scale(0.8783,0.9706);letter-spacing:1px;">SCORE</div>
<div id="INVOICE" class="t lbl" style="left:137px;top:1064px;width:200px;font-size:24px;transform:translate(5.68px,2.44px) scale(0.9442,0.9316);letter-spacing:1px;">INVOICE</div>
<div id="KEIYAKU" class="t lj" style="left:1729px;top:728px;width:200px;font-size:28px;transform:translate(2.90px,4.10px) scale(0.9764,0.9000);">契約</div>
<div id="HOSHO" class="t lb" style="left:2269px;top:710px;width:200px;font-size:32px;transform:translate(2.31px,4.20px) scale(0.9798,0.9000);">補償上限</div>
<div id="PARTNER" class="t lj" style="left:461px;top:1036px;width:300px;font-size:32px;transform:translate(0.29px,3.01px) scale(1.0058,0.9935);">海外パートナー</div>
<div id="GARBLE" class="t lg" style="left:2266px;top:524px;width:200px;font-size:13px;transform:translate(8.32px,2.40px) scale(0.9189,0.9077);">祓会請摺</div>
<div id="LOGO" class="t logo" style="left:58px;top:1364px;width:300px;font-size:38px;transform:translate(-1.22px,4.00px) scale(1.0011,0.9538);">資金調達マップ</div>
</body></html>
